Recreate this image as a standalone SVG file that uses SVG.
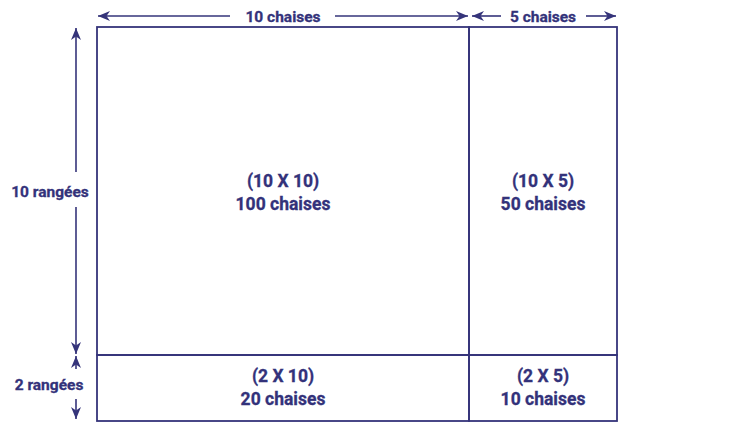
<svg xmlns="http://www.w3.org/2000/svg" width="753" height="445" viewBox="0 0 753 445">
<style>
.ln{stroke:#35347a;stroke-width:1.6;fill:none}
.box{stroke:#35347a;stroke-width:1.8;fill:none}
.t{font-family:Roboto,"Liberation Sans",sans-serif;font-weight:bold;fill:#33327a;text-anchor:middle;stroke:#33327a;stroke-width:0.3}
.c{font-size:17.5px}
.l{font-size:15.5px}
</style>
<defs>
<marker id="ah" viewBox="0 0 12 10" refX="12" refY="5" markerWidth="12" markerHeight="10" markerUnits="userSpaceOnUse" orient="auto">
<path d="M0,0 L12,5 L0,10 L3.5,5 Z" fill="#35347a"/>
</marker>
</defs>
<g id="connectors">
<line class="ln" x1="230" y1="16" x2="98" y2="16" marker-end="url(#ah)"/>
<line class="ln" x1="335" y1="16" x2="468" y2="16" marker-end="url(#ah)"/>
<line class="ln" x1="501" y1="16" x2="472" y2="16" marker-end="url(#ah)"/>
<line class="ln" x1="586" y1="16" x2="616" y2="16" marker-end="url(#ah)"/>
<line class="ln" x1="76" y1="172" x2="76" y2="28" marker-end="url(#ah)"/>
<line class="ln" x1="76" y1="207" x2="76" y2="354" marker-end="url(#ah)"/>
<line class="ln" x1="76" y1="369" x2="76" y2="356" marker-end="url(#ah)"/>
<line class="ln" x1="76" y1="399" x2="76" y2="419" marker-end="url(#ah)"/>
</g>
<g id="labels">
<text class="t l" x="283" y="22">10 chaises</text>
<text class="t l" x="543" y="22">5 chaises</text>
<text class="t l" x="50" y="196.5">10 rangées</text>
<text class="t l" x="49" y="389.5">2 rangées</text>
</g>
<g id="node-10x10">
<rect class="box" x="97" y="27" width="372" height="328"/>
<text class="t c" x="283" y="186.5">(10 X 10)</text>
<text class="t c" x="283" y="209.5">100 chaises</text>
</g>
<g id="node-10x5">
<rect class="box" x="469" y="27" width="148" height="328"/>
<text class="t c" x="543" y="186.5">(10 X 5)</text>
<text class="t c" x="543" y="209.5">50 chaises</text>
</g>
<g id="node-2x10">
<rect class="box" x="97" y="355" width="372" height="66"/>
<text class="t c" x="283" y="381.5">(2 X 10)</text>
<text class="t c" x="283" y="404.5">20 chaises</text>
</g>
<g id="node-2x5">
<rect class="box" x="469" y="355" width="148" height="66"/>
<text class="t c" x="543" y="381.5">(2 X 5)</text>
<text class="t c" x="543" y="404.5">10 chaises</text>
</g>
</svg>
